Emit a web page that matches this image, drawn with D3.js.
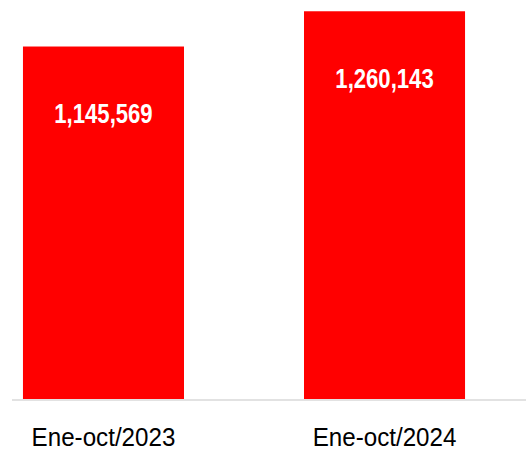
<!DOCTYPE html>
<html>
<head>
<meta charset="utf-8">
<script src="https://cdn.jsdelivr.net/npm/d3@7"></script>
<style>
  body { margin: 0; background: #fff; }
  svg { display: block; }
</style>
</head>
<body>
<svg width="526" height="459"></svg>
<script>
const categories = ["Ene-oct/2023", "Ene-oct/2024"];
const values = [1145569, 1260143];

const svg = d3.select("svg"),
  width = +svg.attr("width"),
  baseY = 399;

const x = d3
  .scaleBand()
  .domain(categories)
  .range([12, 476])
  .paddingInner(0.427)
  .paddingOuter(0.039);

const y = d3.scaleLinear().domain([0, 1300000]).range([baseY, -1]);

const fmt = d3.format(",");

// bars
svg.selectAll(".bar")
  .data(values)
  .enter()
  .append("rect")
  .attr("class", "bar")
  .attr("x", (d, i) => x(categories[i]))
  .attr("y", d => y(d))
  .attr("width", x.bandwidth())
  .attr("height", d => baseY - y(d))
  .attr("fill", "#ff0000");

// axis line
svg.append("line")
  .attr("x1", 12)
  .attr("x2", width)
  .attr("y1", baseY + 1)
  .attr("y2", baseY + 1)
  .attr("stroke", "#d9d9d9")
  .attr("stroke-width", 1.5);

// value labels (condensed look)
svg.selectAll(".val")
  .data(values)
  .enter()
  .append("text")
  .attr("class", "val")
  .attr("transform", (d, i) =>
    `translate(${x(categories[i]) + x.bandwidth() / 2},${y(d) + 76.5}) scale(0.79,1)`)
  .attr("text-anchor", "middle")
  .attr("font-family", "Liberation Sans, Arial, sans-serif")
  .attr("font-weight", "bold")
  .attr("font-size", 28)
  .attr("fill", "#fff")
  .text(d => fmt(d));

// category labels
svg.selectAll(".cat")
  .data(categories)
  .enter()
  .append("text")
  .attr("class", "cat")
  .attr("transform", d =>
    `translate(${x(d) + x.bandwidth() / 2},446) scale(0.93,1)`)
  .attr("text-anchor", "middle")
  .attr("font-family", "Liberation Sans, Arial, sans-serif")
  .attr("font-size", 26)
  .attr("fill", "#000")
  .text(d => d);
</script>
</body>
</html>
